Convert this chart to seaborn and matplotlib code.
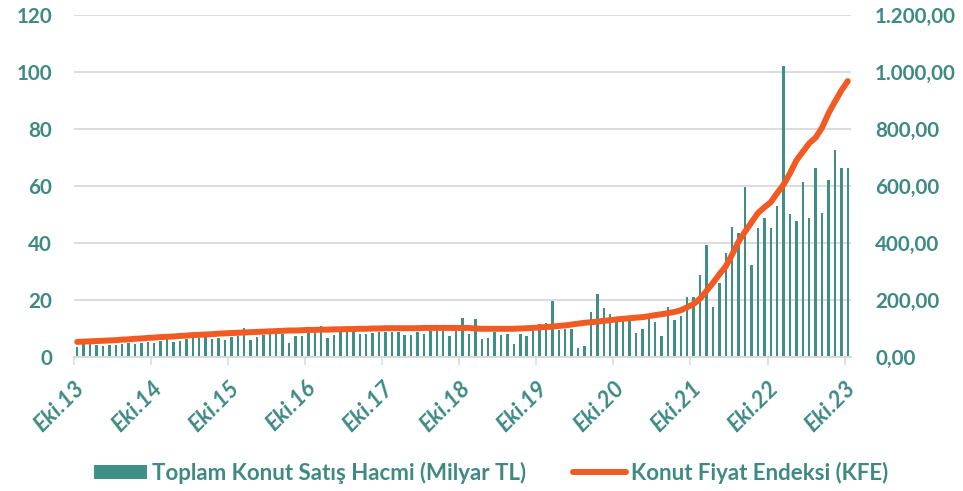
import matplotlib
matplotlib.use("Agg")
import matplotlib.pyplot as plt
from matplotlib.patches import Patch
from matplotlib.lines import Line2D
from matplotlib.ticker import FixedLocator
import seaborn as sns
import pandas as pd

# aylar: Eki.13 -> Eki.23 (121 ay)
ay_adlari = ["Eki", "Kas", "Ara", "Oca", "Şub", "Mar", "Nis", "May", "Haz", "Tem", "Ağu", "Eyl"]
yil_etiketleri = ["Eki.13", "Eki.14", "Eki.15", "Eki.16", "Eki.17", "Eki.18",
                  "Eki.19", "Eki.20", "Eki.21", "Eki.22", "Eki.23"]

# Toplam Konut Satış Hacmi (Milyar TL)
satis_hacmi = [
    3.4, 4.4, 4.4, 4.2, 4.0, 4.2, 4.2, 4.6, 5.0, 4.6, 4.8, 5.4,
    5.0, 5.7, 8.0, 5.3, 5.7, 6.2, 6.5, 6.5, 6.9, 6.2, 6.8, 6.0,
    6.9, 7.4, 10.2, 6.0, 7.0, 7.7, 8.0, 8.2, 8.0, 4.9, 7.4, 7.4,
    8.4, 8.7, 10.9, 6.8, 7.7, 8.9, 9.0, 9.0, 8.0, 8.0, 8.3, 8.9,
    8.9, 8.9, 8.9, 7.6, 7.6, 8.8, 8.2, 9.1, 9.1, 9.1, 7.4, 9.1,
    13.7, 8.0, 13.3, 6.4, 6.7, 8.9, 7.7, 8.0, 4.6, 8.0, 7.4, 9.1,
    11.6, 12.0, 19.8, 9.5, 9.8, 9.8, 3.0, 3.9, 15.8, 22.0, 17.3, 15.1,
    12.5, 12.5, 12.5, 8.4, 9.8, 13.3, 12.4, 7.4, 17.4, 13.0, 14.5, 21.2,
    21.2, 28.8, 39.3, 17.7, 25.8, 36.6, 45.5, 43.4, 59.6, 32.3, 45.4, 48.9,
    45.1, 53.0, 102.0, 50.2, 47.6, 61.3, 48.8, 66.2, 50.4, 62.1, 72.6, 66.4,
    66.2,
]

# Konut Fiyat Endeksi (KFE)
kfe = [
    53, 54, 55, 56, 57, 58, 59, 61, 62, 64, 65, 67,
    68, 70, 71, 72, 74, 75, 77, 78, 79, 80, 82, 83,
    84, 85, 86, 87, 88, 89, 90, 91, 92, 93, 93, 94,
    95, 95, 96, 96, 97, 97, 98, 98, 99, 99, 100, 100,
    101, 101, 101, 101, 101, 101, 102, 102, 102, 102, 102, 102,
    102, 102, 100, 99, 99, 99, 99, 99, 99, 100, 101, 102,
    104, 105, 107, 109, 111, 114, 117, 120, 122, 124, 127, 129,
    132, 134, 136, 138, 140, 143, 147, 150, 154, 158, 164, 175,
    186, 205, 232, 260, 290, 318, 360, 405, 440, 472, 505, 525,
    543, 575, 605, 645, 690, 720, 750, 770, 805, 855, 896, 935,
    968,
]

sol_eksen = list(range(0, 121, 20))
sag_eksen = list(range(0, 1201, 200))

ay_no = list(range(len(satis_hacmi)))
ay_etiket = [f"{ay_adlari[i % 12]}.{13 + (i + 9) // 12}" for i in ay_no]
df = pd.DataFrame({"ay_no": ay_no, "ay": ay_etiket, "hacim": satis_hacmi, "kfe": kfe})

TEAL = "#3F8F87"
TEXT = "#3E8A83"
ORANGE = "#F15A22"
GRID = "#D9D9D9"


def tr_sayi(v):
    # 1200 -> "1.200,00"
    return f"{v:,.2f}".replace(",", "X").replace(".", ",").replace("X", ".")


sns.set_theme(style="white")
plt.rcParams["font.family"] = ["Lato", "DejaVu Sans"]

fig = plt.figure(figsize=(9.63, 4.91), dpi=100)
ax = fig.add_axes([74 / 963, 1 - 357 / 491, 777 / 963, 342 / 491])
ax2 = ax.twinx()

sns.barplot(data=df, x="ay_no", y="hacim", native_scale=True, width=0.38,
            color=TEAL, saturation=1, edgecolor="none", ax=ax)
sns.lineplot(data=df, x="ay_no", y="kfe", color=ORANGE, linewidth=4.3,
             solid_capstyle="round", ax=ax2)

ax.set_xlim(-0.5, 120.5)
ax.set_ylim(0, 120)
ax2.set_ylim(0, 1200)

ax.set_axisbelow(True)
ax.yaxis.grid(True, color=GRID, linewidth=1.3)
ax.xaxis.grid(False)
for a in (ax, ax2):
    for s in ("left", "right", "top"):
        a.spines[s].set_visible(False)
    a.spines["bottom"].set_color(GRID)
    a.spines["bottom"].set_linewidth(1.3)
    a.set_xlabel("")
    a.set_ylabel("")

# yıl etiketleri: kategori sınırlarında (her 12 ayda bir)
ax.xaxis.set_major_locator(FixedLocator([12 * k - 0.5 for k in range(11)]))
ax.set_xticklabels(yil_etiketleri, rotation=45, ha="right", va="top",
                   rotation_mode="anchor", fontstyle="italic", fontweight="bold",
                   fontsize=16.5, color=TEXT)
ax.tick_params(axis="x", length=5.8, width=1.1, color=GRID, pad=9,
               direction="out", bottom=True)

ax.set_yticks(sol_eksen)
ax.set_yticklabels([str(v) for v in sol_eksen], fontweight="bold", fontsize=14.9, color=TEXT)
ax2.set_yticks(sag_eksen)
ax2.set_yticklabels([tr_sayi(v) for v in sag_eksen], fontweight="bold", fontsize=14.9, color=TEXT)
ax.tick_params(axis="y", length=0, pad=15.8)
ax2.tick_params(axis="y", length=0, pad=17.3)

handles = [Patch(facecolor=TEAL, edgecolor="none"),
           Line2D([0], [0], color=ORANGE, linewidth=4.3, solid_capstyle="round")]
fig.legend(handles, ["Toplam Konut Satış Hacmi (Milyar TL)", "Konut Fiyat Endeksi (KFE)"],
           loc="center", bbox_to_anchor=(0.51, 0.037), ncol=2, frameon=False,
           labelcolor=TEXT, handlelength=2.35, handleheight=0.65,
           handletextpad=0.22, columnspacing=2.15, prop={"weight": "bold", "size": 16})

fig.savefig("out.png", dpi=100)
